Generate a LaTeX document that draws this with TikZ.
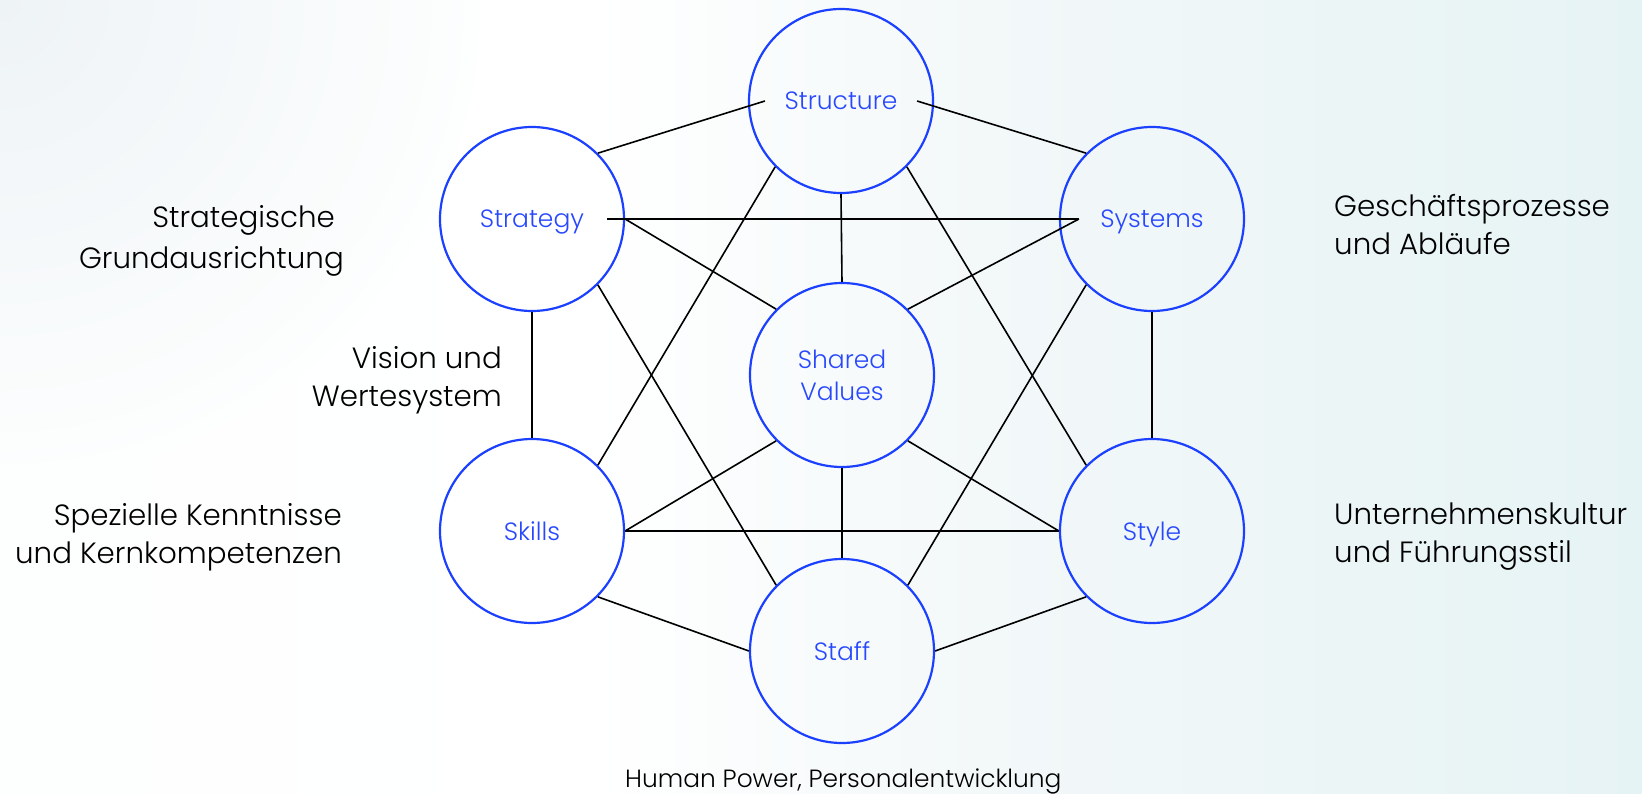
\documentclass[tikz,border=0pt]{standalone}
\usepackage{fontspec}
\setmainfont{Poppins}[UprightFont=* Light]
\definecolor{cblue}{RGB}{28,64,255}
\definecolor{tblue}{RGB}{40,72,255}
\definecolor{bg0}{RGB}{253,254,254}
\definecolor{bg1}{RGB}{243,248,249}
\definecolor{bgr}{RGB}{230,243,244}
\definecolor{bgc}{RGB}{238,243,246}
\pgfdeclarehorizontalshading{bgshade}{100bp}{color(0bp)=(bg0); color(25bp)=(bg0); color(43bp)=(white); color(55bp)=(bg1); color(75bp)=(bgr); color(100bp)=(bgr)}
\pgfdeclareradialshading{cornershade}{\pgfpoint{0bp}{0bp}}{color(0bp)=(bgc); color(25bp)=(bg0); color(50bp)=(bg0)}
\begin{document}
\begin{tikzpicture}[x=1pt,y=-1pt,
  stage/.style={circle,draw=cblue,line width=2.2pt,minimum size=184pt,inner sep=0pt,
    text=tblue,font=\fontsize{25}{32}\selectfont,align=center,text depth=0pt},
  link/.style={draw=black,line width=1.6pt},
  side/.style={font=\fontsize{29.3}{38}\selectfont,inner sep=0pt,text=black},
  credit/.style={font=\fontsize{24.9}{30}\selectfont,inner sep=0pt,text=black}]
\useasboundingbox (0,0) rectangle (1642,793);
\shade[shading=bgshade] (0,0) rectangle (1642,793);
\begin{scope}
\clip (0,0) rectangle (1642,793);
\shade[shading=cornershade] (0,0) circle (480);
\end{scope}

\node[stage] (structure) at (841,101) {Structure};
\node[stage] (strategy) at (532,219) {Strategy};
\node[stage] (systems) at (1152,219) {Systems};
\node[stage] (shared) at (842,375) {Shared\\Values};
\node[stage] (skills) at (532,531) {Skills};
\node[stage] (style) at (1152,531) {Style};
\node[stage] (staff) at (842,651) {Staff};

\draw[link] (strategy.north east) -- ([xshift=17pt]structure.west);
\draw[link] ([xshift=-17pt]structure.east) -- (systems.north west);
\draw[link] ([xshift=-18pt]strategy.east) -- ([xshift=20pt]systems.west);
\draw[link] (strategy.east) -- (shared.north west);
\draw[link] ([xshift=20pt]systems.west) -- (shared.north east);
\draw[link] (structure.south) -- (shared.north);
\draw[link] (structure.south west) -- (skills.north east);
\draw[link] (structure.south east) -- (style.north west);
\draw[link] (strategy.south) -- (skills.north);
\draw[link] (systems.south) -- (style.north);
\draw[link] (strategy.south east) -- (staff.north west);
\draw[link] (systems.south west) -- (staff.north east);
\draw[link] (skills.east) -- (shared.south west);
\draw[link] (style.west) -- (shared.south east);
\draw[link] (skills.east) -- (style.west);
\draw[link] (shared.south) -- (staff.north);
\draw[link] (skills.south east) -- (staff.west);
\draw[link] (style.south west) -- (staff.east);

\node[side,anchor=base east,align=right] (lstrat) at (344,268) {Strategische\hspace*{9pt}\\[3pt]Grundausrichtung};
\node[side,anchor=base east,align=right] (lvision) at (502,406) {Vision und\\Wertesystem};
\node[side,anchor=base east,align=right] (lskills) at (342,563) {Spezielle Kenntnisse\\und Kernkompetenzen};
\node[side,anchor=base west,align=left] (lsys) at (1334,254) {Geschäftsprozesse\\und Abläufe};
\node[side,anchor=base west,align=left] (lstyle) at (1334,562) {Unternehmenskultur\\und Führungsstil};
\node[credit,anchor=base west] (lcredit) at (625,787) {Human Power, Personalentwicklung};
\end{tikzpicture}
\end{document}
